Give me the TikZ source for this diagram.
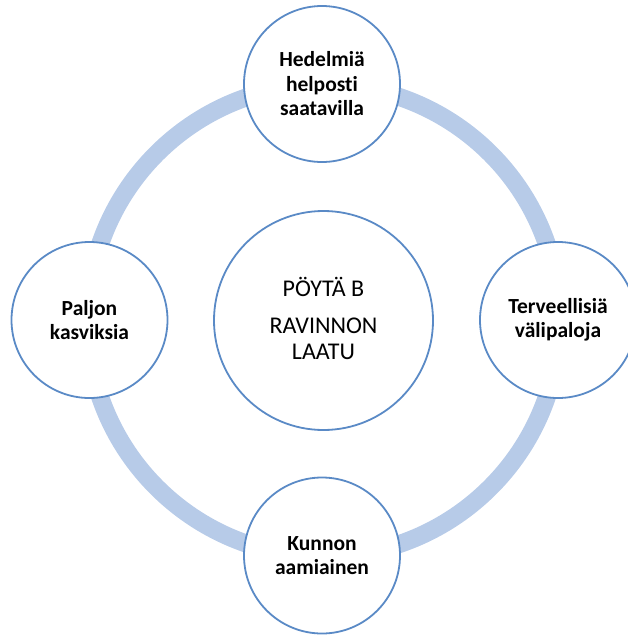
\documentclass[tikz,border=0pt]{standalone}
\usepackage{fontspec}
\setmainfont{Carlito}[RawFeature={-liga}]
\begin{document}
\definecolor{ringblue}{HTML}{B7CBE8}
\definecolor{edgeblue}{HTML}{5A8AC6}
\begin{tikzpicture}[x=1pt,y=-1pt,
  hub/.style={circle,draw=edgeblue,line width=1.8pt,fill=white,minimum size=219pt,inner sep=0pt},
  spoke/.style={circle,draw=edgeblue,line width=1.8pt,fill=white,minimum size=156pt,inner sep=0pt},
  spoketext/.style={align=center,font=\bfseries\fontsize{21.5}{24.5}\selectfont},
  hubtext/.style={align=center,font=\fontsize{24}{26}\selectfont}]
  \useasboundingbox (0,0) rectangle (628,635);
  % connecting ring behind the circles
  \coordinate (c) at (323.5,320.5);
  \draw[ringblue,line width=18pt] (c) circle[radius=236];
  % central circle
  \node[hub] (hub) at (c) {};
  \node[hubtext] (hubt) at (323.5,318.5) {PÖYTÄ B\\[10.5pt]RAVINNON\\LAATU};
  % outer circles
  \node[spoke] (top) at (322,84) {};
  \node[spoke] (right) at (558,320) {};
  \node[spoke] (bottom) at (322,555.5) {};
  \node[spoke] (left) at (89.5,320) {};
  \node[spoketext] at (top.center) {Hedelmiä\\helposti\\saatavilla};
  \node[spoketext] at (right.center) {Terveellisiä\\välipaloja};
  \node[spoketext] at (bottom.center) {Kunnon\\aamiainen};
  \node[spoketext] at (left.center) {Paljon\\kasviksia};
\end{tikzpicture}
\end{document}
